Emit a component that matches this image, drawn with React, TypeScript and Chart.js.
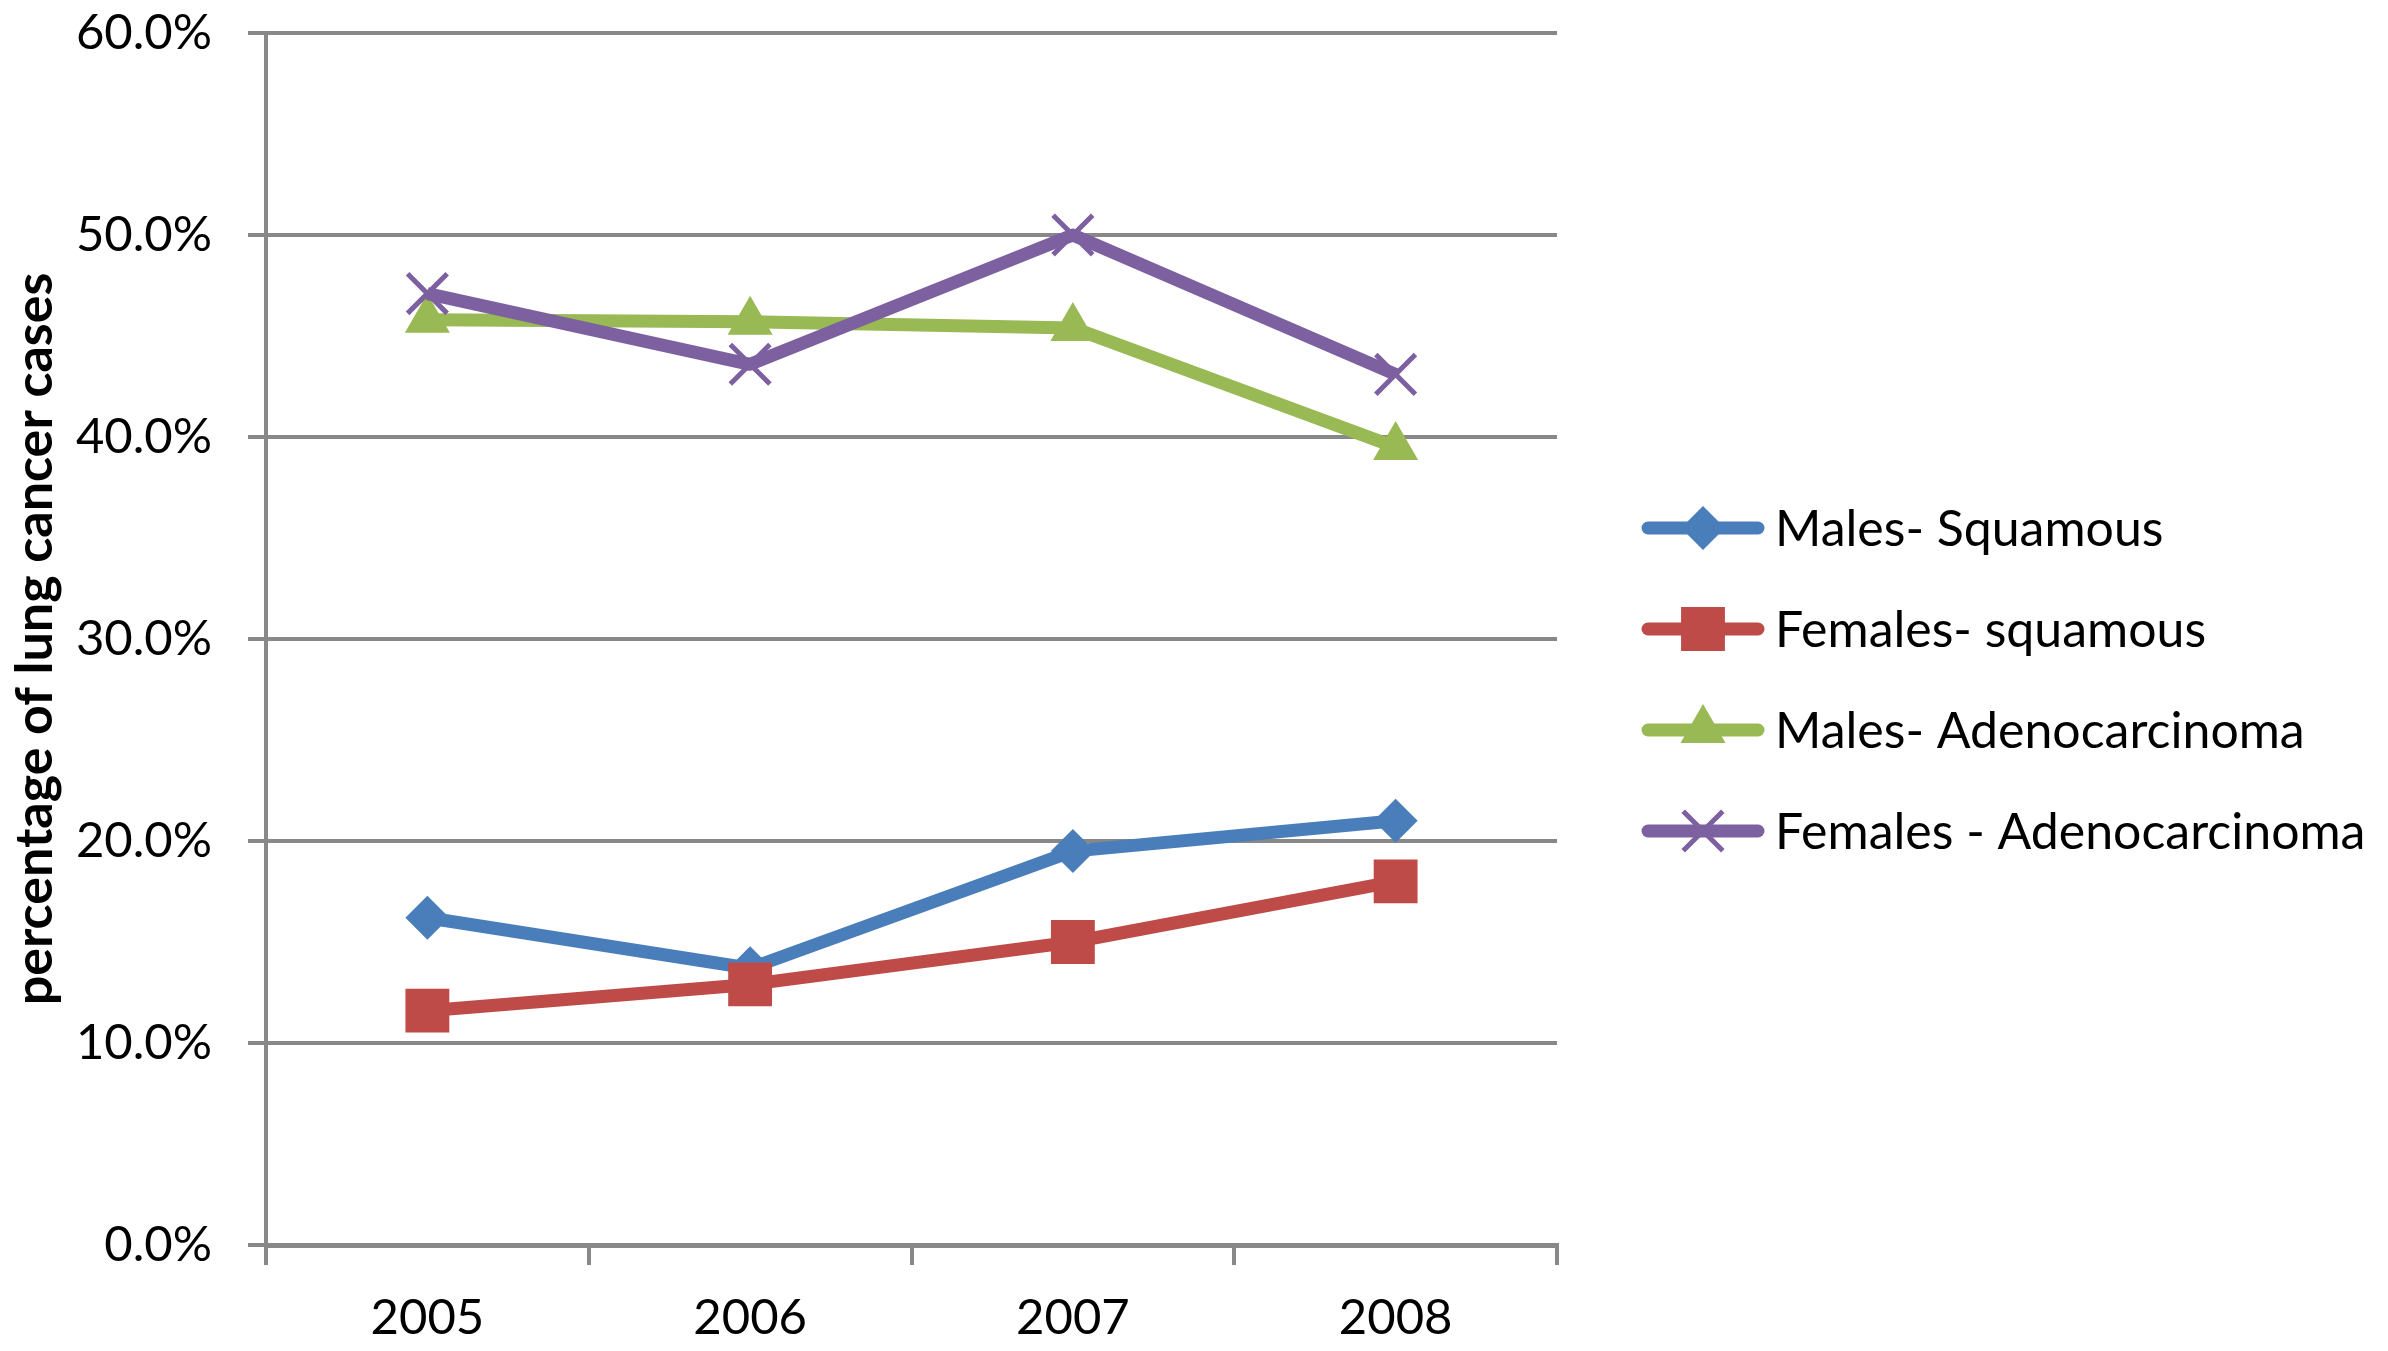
import React, { useEffect, useRef } from 'react';
import { Chart, registerables } from 'chart.js';
import { drawPoint } from 'chart.js/helpers';

Chart.register(...registerables);

const years = ['2005', '2006', '2007', '2008'];
const malesSquamous = [16.2, 13.7, 19.5, 21.0];
const femalesSquamous = [11.6, 12.9, 15.0, 18.0];
const malesAdeno = [45.8, 45.7, 45.4, 39.5];
const femalesAdeno = [47.1, 43.6, 50.0, 43.1];
const seriesNames = ['Males- Squamous', 'Females- squamous', 'Males- Adenocarcinoma', 'Females - Adenocarcinoma'];
const yAxisTitle = 'percentage of lung cancer cases';

const FONT = 'Lato, "Open Sans", sans-serif';
const GRID = '#888888';

const legendPlugin = {
  id: 'sideLegend',
  afterDraw(chart: any) {
    const ctx = chart.ctx;
    const x0 = 1648, x1 = 1758, tx = 1775;
    const top = 528, step = 101;
    ctx.save();
    chart.data.datasets.forEach((ds: any, i: number) => {
      const y = top + step * i;
      ctx.strokeStyle = ds.borderColor;
      ctx.lineWidth = 13;
      ctx.lineCap = 'round';
      ctx.beginPath();
      ctx.moveTo(x0, y);
      ctx.lineTo(x1, y);
      ctx.stroke();
      ctx.fillStyle = ds.pointBackgroundColor;
      ctx.strokeStyle = ds.pointBorderColor;
      ctx.lineWidth = ds.pointBorderWidth;
      ctx.lineCap = 'butt';
      drawPoint(ctx, { pointStyle: ds.pointStyle, radius: ds.pointRadius, borderWidth: ds.pointBorderWidth, rotation: 0 } as any, (x0 + x1) / 2, y);
      ctx.fillStyle = '#000000';
      ctx.font = `50px ${FONT}`;
      ctx.textAlign = 'left';
      ctx.textBaseline = 'middle';
      ctx.fillText(ds.label, tx, y + 2);
    });
    ctx.restore();
  },
};

function mk(label: string, data: number[], color: string, style: string, r: number, bw: number, order: number) {
  return {
    label,
    data,
    borderColor: color,
    backgroundColor: color,
    borderWidth: 13,
    pointStyle: style,
    pointRadius: r,
    pointHoverRadius: r,
    pointBackgroundColor: color,
    pointBorderColor: color,
    pointBorderWidth: bw,
    tension: 0,
    borderJoinStyle: 'round',
    order,
  };
}

export default function App() {
  const ref = useRef<HTMLCanvasElement | null>(null);
  useEffect(() => {
    document.body.style.margin = '0';
    const chart = new Chart(ref.current as HTMLCanvasElement, {
      type: 'line',
      data: {
        labels: years,
        datasets: [
          mk(seriesNames[0], malesSquamous, '#4A7EBB', 'rectRot', 22, 0, 4),
          mk(seriesNames[1], femalesSquamous, '#BE4B48', 'rect', 31, 0, 3),
          mk(seriesNames[2], malesAdeno, '#98B954', 'triangle', 26, 0, 2),
          mk(seriesNames[3], femalesAdeno, '#7D60A0', 'crossRot', 28, 5, 1),
        ] as any,
      },
      plugins: [legendPlugin],
      options: {
        animation: false,
        responsive: true,
        maintainAspectRatio: false,
        devicePixelRatio: 1,
        layout: { padding: { top: 30, right: 831, bottom: 0, left: 0 } },
        plugins: {
          legend: { display: false },
          tooltip: { enabled: false },
        },
        scales: {
          x: {
            offset: true,
            afterFit: (s: any) => { s.height = 106; s.paddingLeft = 0; s.paddingRight = 0; },
            grid: {
              offset: true,
              drawOnChartArea: false,
              drawTicks: true,
              tickLength: 20,
              color: GRID,
              lineWidth: 4,
            },
            border: { color: GRID, width: 5 },
            ticks: {
              color: '#000000',
              font: { family: FONT, size: 49 },
              padding: 24,
            },
          },
          y: {
            min: 0,
            max: 60,
            afterFit: (s: any) => { s.width = 266; s.paddingTop = 30; s.paddingBottom = 0; },
            grid: {
              color: GRID,
              lineWidth: 4,
              tickLength: 18,
              drawTicks: true,
            },
            border: { color: GRID, width: 4 },
            ticks: {
              stepSize: 10,
              color: '#000000',
              font: { family: FONT, size: 49 },
              padding: 36,
              callback: (v: any) => Number(v).toFixed(1) + '%',
            },
            title: {
              display: true,
              text: yAxisTitle,
              color: '#000000',
              font: { family: FONT, size: 52, weight: 'bold' },
              padding: { top: 4, bottom: 0 },
            },
          },
        },
      } as any,
    });
    return () => chart.destroy();
  }, []);
  return (
    <div style={{ position: 'fixed', left: 0, top: 0, width: 2388, height: 1351, background: '#ffffff' }}>
      <canvas ref={ref} />
    </div>
  );
}
